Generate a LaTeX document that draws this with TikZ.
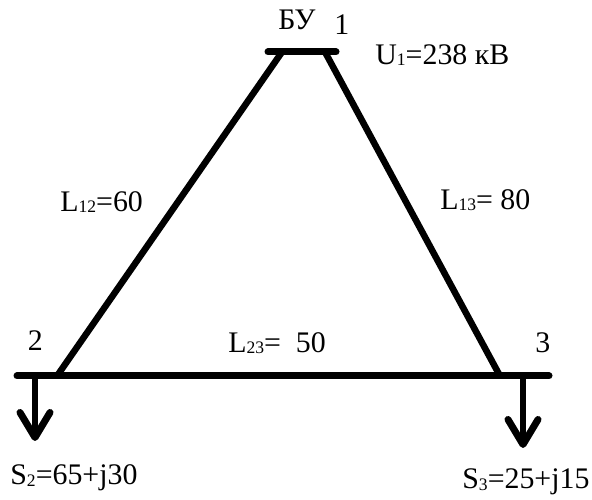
\documentclass[tikz,border=0pt]{standalone}
\usepackage{fontspec}
\setmainfont{Liberation Serif}
\usepackage{tikz}
\usetikzlibrary{arrows.meta}
\newcommand{\lowidx}[1]{\raisebox{-.12ex}{\fontsize{10}{10}\selectfont #1}}
\tikzset{
  bus/.style={draw=black,line width=.14cm,line cap=round},
  branch/.style={draw=black,line width=.13cm},
  load/.style={draw=black,line width=.11cm,-{Straight Barb[length=.5cm,width=.6cm,line width=.14cm,round]}},
  label/.style={font=\fontsize{17}{19}\selectfont,inner sep=0pt,anchor=west,text=black}
}
\begin{document}
\begin{tikzpicture}
  \useasboundingbox (0,0) rectangle (11.84,10);
  % buses
  \coordinate (bus1w) at (5.36,8.96);
  \coordinate (bus1e) at (6.72,8.96);
  \coordinate (bus23w) at (.34,2.48);
  \coordinate (bus23e) at (10.98,2.48);
  \draw[bus] (bus1w) -- (bus1e);
  \draw[bus] (bus23w) -- (bus23e);
  % lines
  \coordinate (n1l) at (5.64,8.96);
  \coordinate (n1r) at (6.5,8.96);
  \coordinate (n2) at (1.14,2.48);
  \coordinate (n3) at (10,2.48);
  \draw[branch] (n1l) -- (n2);
  \draw[branch] (n1r) -- (n3);
  % loads
  \coordinate (load2a) at (.7,2.48);
  \coordinate (load2b) at (.7,1.18);
  \coordinate (load3a) at (10.46,2.48);
  \coordinate (load3b) at (10.46,1.04);
  \draw[load] (load2a) -- (load2b);
  \draw[load] (load3a) -- (load3b);
  % labels
  \node[label] (bu) at (5.56,9.6) {БУ};
  \node[label] (n1) at (6.68,9.5) {1};
  \node[label] (u1) at (7.5,8.9) {U\lowidx{1}=238 кВ};
  \node[label] (l12) at (1.2,5.96) {L\lowidx{12}=60};
  \node[label] (l13) at (8.8,6) {L\lowidx{13}= 80};
  \node[label] (l23) at (4.56,3.14) {L\lowidx{23}=\ \ 50};
  \node[label] (n2lab) at (.55,3.18) {2};
  \node[label] (n3lab) at (10.7,3.14) {3};
  \node[label] (s2) at (.2,.44) {S\lowidx{2}=65+j30};
  \node[label] (s3) at (9.24,.36) {S\lowidx{3}=25+j15};
\end{tikzpicture}
\end{document}
